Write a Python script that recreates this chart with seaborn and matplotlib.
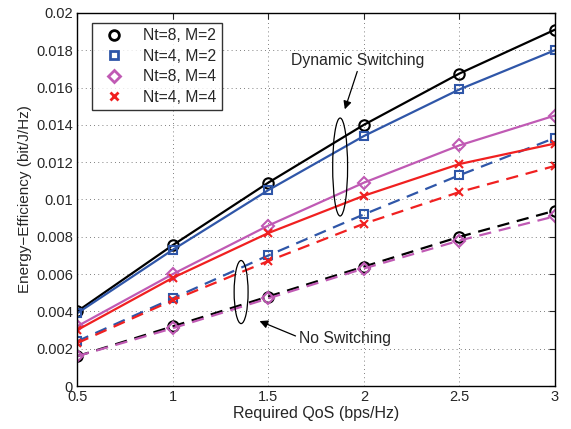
import matplotlib
matplotlib.use('Agg')
import matplotlib.pyplot as plt
import seaborn as sns
from matplotlib.lines import Line2D
from matplotlib.patches import Ellipse

# ---- DATA ----
qos = [0.5, 1.0, 1.5, 2.0, 2.5, 3.0]

# dynamic switching (solid)
dyn_nt8_m2 = [0.0040, 0.00755, 0.0109, 0.0140, 0.01675, 0.0191]
dyn_nt4_m2 = [0.0039, 0.0073, 0.0105, 0.0134, 0.0159, 0.0180]
dyn_nt8_m4 = [0.0032, 0.0060, 0.0086, 0.0109, 0.0129, 0.0145]
dyn_nt4_m4 = [0.0030, 0.0058, 0.0082, 0.0102, 0.0119, 0.0130]

# no switching (dashed)
ns_nt8_m2 = [0.0016, 0.0032, 0.0048, 0.0064, 0.0080, 0.0094]
ns_nt4_m2 = [0.0024, 0.0047, 0.0070, 0.0092, 0.0113, 0.0133]
ns_nt8_m4 = [0.0016, 0.0031, 0.0047, 0.0063, 0.0078, 0.0091]
ns_nt4_m4 = [0.0023, 0.0046, 0.0067, 0.0087, 0.0104, 0.0118]

labels = ['Nt=8, M=2', 'Nt=4, M=2', 'Nt=8, M=4', 'Nt=4, M=4']
xticks = [0.5, 1, 1.5, 2, 2.5, 3]
yticks = [0, 0.002, 0.004, 0.006, 0.008, 0.01, 0.012, 0.014, 0.016, 0.018, 0.02]
ytick_labels = ['0', '0.002', '0.004', '0.006', '0.008', '0.01', '0.012',
                '0.014', '0.016', '0.018', '0.02']

colors = ['black', '#2f56a8', '#c05ab4', '#f02020']
markers = ['o', 's', 'D', 'x']
msizes = [7.5, 6, 6.5, 6]

sns.set_style('white')
plt.rcParams['font.family'] = ['Liberation Sans', 'DejaVu Sans']

fig = plt.figure(figsize=(5.71, 4.29), dpi=100)
ax = fig.add_axes([0.135, 0.100, 0.837, 0.870])

dyn = [dyn_nt8_m2, dyn_nt4_m2, dyn_nt8_m4, dyn_nt4_m4]
ns = [ns_nt8_m2, ns_nt4_m2, ns_nt8_m4, ns_nt4_m4]

# dashed first, then solid on top
for order in [1, 3, 0, 2]:
    sns.lineplot(x=qos, y=ns[order], ax=ax, color=colors[order],
                 marker=markers[order], markersize=msizes[order],
                 markerfacecolor='none', markeredgecolor=colors[order],
                 markeredgewidth=1.5, linewidth=1.6)
    ax.lines[-1].set_linestyle((0, (5.5, 3.5)))

for i in range(4):
    sns.lineplot(x=qos, y=dyn[i], ax=ax, color=colors[i],
                 marker=markers[i], markersize=msizes[i],
                 markerfacecolor='none', markeredgecolor=colors[i],
                 markeredgewidth=1.5, linewidth=1.6)

# ---- ANNOTATIONS ----
ax.add_patch(Ellipse((1.876, 0.01174), 0.078, 0.00525, fill=False,
                     edgecolor='black', linewidth=0.9, zorder=5))
ax.add_patch(Ellipse((1.358, 0.00504), 0.073, 0.00338, fill=False,
                     edgecolor='black', linewidth=0.9, zorder=5))
ax.annotate('', xy=(1.896, 0.01469), xytext=(1.970, 0.0170),
            arrowprops=dict(arrowstyle='-|>', color='black', lw=0.9,
                            mutation_scale=12))
ax.text(1.619, 0.01743, 'Dynamic Switching', fontsize=11.3,
        ha='left', va='center')
ax.annotate('', xy=(1.441, 0.00354), xytext=(1.656, 0.00263),
            arrowprops=dict(arrowstyle='-|>', color='black', lw=0.9,
                            mutation_scale=12))
ax.text(1.660, 0.00257, 'No Switching', fontsize=11.3,
        ha='left', va='center')

# ---- AXES ----
ax.set_xlim(0.5, 3)
ax.set_ylim(0, 0.02)
ax.set_xticks(xticks)
ax.set_xticklabels(['0.5', '1', '1.5', '2', '2.5', '3'])
ax.set_yticks(yticks)
ax.set_yticklabels(ytick_labels)
ax.tick_params(direction='in', length=4, width=0.8, labelsize=10.5,
               top=True, right=True, pad=3)
ax.grid(True, linestyle=(0, (1, 4)), color='#555555', linewidth=0.6)
for sp in ax.spines.values():
    sp.set_color('black')
    sp.set_linewidth(1.0)
ax.set_xlabel('Required QoS (bps/Hz)', fontsize=11.5, labelpad=1)
ax.set_ylabel('Energy\u2212Efficiency (bit/J/Hz)', fontsize=11, labelpad=3)

handles = [Line2D([], [], linestyle='none', marker=markers[i],
                  markersize=msizes[i] - 0.5, markerfacecolor='none',
                  markeredgecolor=colors[i], markeredgewidth=2)
           for i in range(4)]
leg = ax.legend(handles, labels, loc='upper left', bbox_to_anchor=(0.032, 0.974),
                fontsize=11.3, frameon=True, fancybox=False, handletextpad=0.9,
                borderpad=0.35, labelspacing=0.35, handlelength=2.0,
                borderaxespad=0.0)
leg.get_frame().set_edgecolor('black')
leg.get_frame().set_linewidth(1.0)

fig.savefig('out.png', dpi=100)
